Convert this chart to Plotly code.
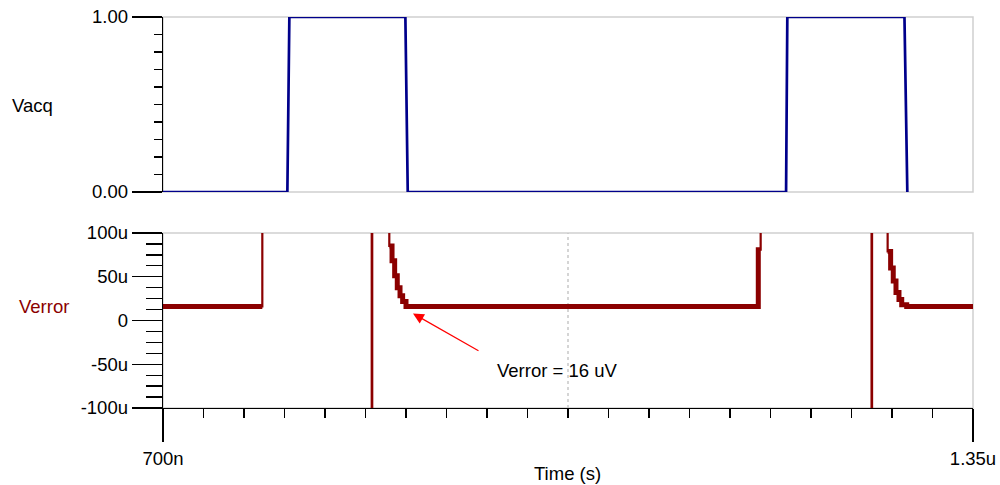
import plotly.graph_objects as go

# ---------------- data ----------------
# Vacq (time in ns, value in V)
t_vacq = [700, 799.8, 801.4, 894.5, 896.4, 1200.0, 1201.0, 1295.0, 1297.3]
v_vacq = [0, 0, 1, 1, 0, 0, 1, 1, 0]

# Verror, step-held samples (time in ns where value starts, value in uV)
t_err = [700, 779.7, 867.5, 867.9, 881.6, 883.8, 885.9, 888.0, 890.2, 892.3, 895.0,
         1177.7, 1179.6, 1268.6, 1269.0, 1281.5, 1283.9, 1286.0, 1288.2, 1290.6, 1292.8, 1296.8, 1350]
v_err = [16, 400, -400, 400, 85.2, 68.2, 51.1, 37.5, 28.4, 21.6, 16,
         81, 400, -400, 400, 79, 60, 45, 32, 24, 18, 16, 16]

x_range = [700, 1350]
x_label_vals = [700, 1350]
x_label_text = ["700n", "1.35u"]
x_major_vals = [862.5, 1025, 1187.5]

vacq_tick_vals = [0, 1]
vacq_tick_text = ["0.00", "1.00"]
err_tick_vals = [-100, -50, 0, 50, 100]
err_tick_text = ["-100u", "-50u", "0", "50u", "100u"]

# ---------------- build ----------------
# expanded staircase, keeping only in-range part for the thick settled band
tx, ty = [], []
for i in range(len(t_err) - 1):
    for xx in (t_err[i], t_err[i + 1]):
        tx.append(xx)
        ty.append(v_err[i] if abs(v_err[i]) <= 100 else None)

BLUE = "#00008b"
RED = "#8b0000"
GREY = "#cfcfcf"
FONT = "Liberation Sans, Arial, sans-serif"
FS = 18.5

fig = go.Figure()
fig.add_trace(go.Scatter(x=t_vacq, y=v_vacq, mode="lines", xaxis="x", yaxis="y",
                         line=dict(color=BLUE, width=2.7), hoverinfo="skip"))
fig.add_trace(go.Scatter(x=t_err, y=v_err, mode="lines", xaxis="x2", yaxis="y2",
                         line=dict(color=RED, width=2.2, shape="hv"), hoverinfo="skip"))
fig.add_trace(go.Scatter(x=tx, y=ty, mode="lines", xaxis="x2", yaxis="y2",
                         line=dict(color=RED, width=5), connectgaps=False, hoverinfo="skip"))

dom_x = [0.163, 0.973]
dom_top = [1 - 192 / 485, 1 - 17 / 485]
dom_bot = [1 - 408 / 485, 1 - 233 / 485]

common = dict(showgrid=False, zeroline=False, tickcolor="black", tickwidth=1.3,
              automargin=False,
              tickfont=dict(family=FONT, size=FS, color="black"))

fig.update_layout(
    width=1000, height=485,
    margin=dict(l=0, r=0, t=0, b=0),
    paper_bgcolor="white", plot_bgcolor="white",
    showlegend=False,
    font=dict(family=FONT, size=FS, color="black"),
    xaxis=dict(domain=dom_x, anchor="y", range=x_range, showticklabels=False, ticks="",
               showline=False, showgrid=False, zeroline=False, automargin=False),
    yaxis=dict(domain=dom_top, anchor="x", range=[0, 1], tickvals=vacq_tick_vals,
               ticktext=vacq_tick_text, ticks="outside", ticklen=30,
               showline=True, linecolor="black", linewidth=1.3,
               minor=dict(dtick=0.1, ticklen=8, ticks="outside", tickcolor="black", tickwidth=1.3),
               **common),
    yaxis3=dict(overlaying="y", anchor="x", range=[0, 1], tickvals=[0.5], ticks="outside",
                ticklen=16, showticklabels=False, showline=False, **common),
    xaxis2=dict(domain=dom_x, anchor="y2", range=x_range, tickvals=x_label_vals,
                ticktext=x_label_text, ticks="outside", ticklen=33,
                showline=True, linecolor="black", linewidth=1.3,
                minor=dict(tick0=700, dtick=32.5, ticklen=9, ticks="outside",
                           tickcolor="black", tickwidth=1.3),
                **common),
    xaxis3=dict(overlaying="x2", anchor="y2", range=x_range, tickvals=x_major_vals,
                ticks="outside", ticklen=18, showticklabels=False, showline=False, **common),
    yaxis2=dict(domain=dom_bot, anchor="x2", range=[-100, 100], tickvals=err_tick_vals,
                ticktext=err_tick_text, ticks="outside", ticklen=30,
                showline=True, linecolor="black", linewidth=1.3,
                minor=dict(dtick=12.5, ticklen=16, ticks="outside", tickcolor="black", tickwidth=1.3),
                **common),
)

fig.add_shape(type="rect", xref="x domain", yref="y domain", x0=0, x1=1, y0=0, y1=1,
              line=dict(color=GREY, width=1.5), layer="below")
fig.add_shape(type="rect", xref="x2 domain", yref="y2 domain", x0=0, x1=1, y0=0, y1=1,
              line=dict(color=GREY, width=1.5), layer="below")
fig.add_shape(type="line", xref="x2", yref="y2 domain", x0=1025, x1=1025, y0=0, y1=1,
              line=dict(color="#c8c8c8", width=1.5, dash="dot"), layer="below")

fig.add_annotation(text="Vacq", xref="paper", yref="paper", x=0.010, y=1 - 105 / 485,
                   xanchor="left", yanchor="middle", showarrow=False,
                   font=dict(family=FONT, size=FS, color="black"))
fig.add_annotation(text="Verror", xref="paper", yref="paper", x=0.017, y=1 - 306 / 485,
                   xanchor="left", yanchor="middle", showarrow=False,
                   font=dict(family=FONT, size=FS, color=RED))
fig.add_annotation(text="Time (s)", xref="paper", yref="paper", x=0.567, y=1 - 473 / 485,
                   xanchor="center", yanchor="middle", showarrow=False,
                   font=dict(family=FONT, size=FS, color="black"))
fig.add_annotation(text="Verror = 16 uV", xref="paper", yref="paper", x=0.557, y=1 - 370 / 485,
                   xanchor="center", yanchor="middle", showarrow=False,
                   font=dict(family=FONT, size=FS, color="black"))
fig.add_annotation(text="", xref="x2", yref="y2", x=900.6, y=8, ax=67, ay=38,
                   showarrow=True, arrowhead=2, arrowsize=1.8, arrowwidth=1.2,
                   arrowcolor="#ff0000", standoff=0)

fig.write_html("out.html",
               config={"displayModeBar": False, "staticPlot": True},
               post_script="document.body.style.margin='0';document.body.style.overflow='hidden';")
